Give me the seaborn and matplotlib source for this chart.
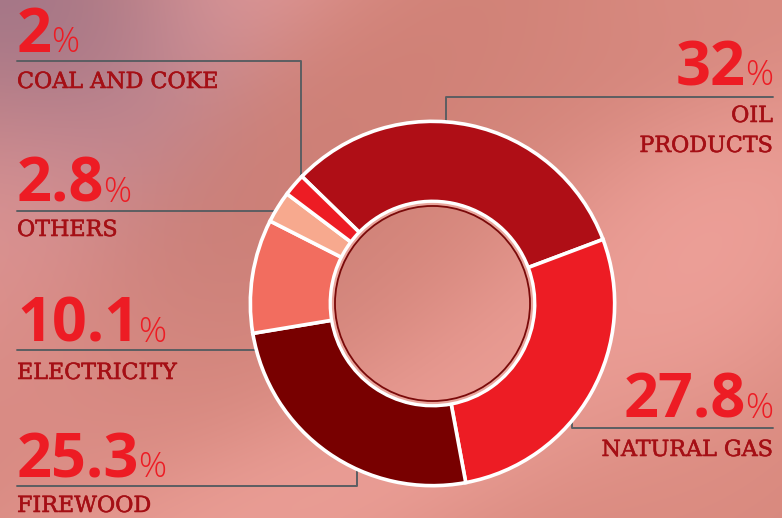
import numpy as np
import matplotlib
matplotlib.use("Agg")
import matplotlib.pyplot as plt
import matplotlib.patheffects as pe
import seaborn as sns

# ---- data ----
categories = ["OIL\nPRODUCTS", "NATURAL GAS", "FIREWOOD", "ELECTRICITY", "OTHERS", "COAL AND COKE"]
values = [32, 27.8, 25.3, 10.1, 2.8, 2]
value_labels = ["32", "27.8", "25.3", "10.1", "2.8", "2"]
colors = ["#AF0E16", "#ED1C24", "#780000", "#F26D5F", "#F7A98E", "#ED1C24"]

sns.set_theme(style="white")

W, H = 782, 518
fig = plt.figure(figsize=(W / 100, H / 100), dpi=100)

# ---- background ----
yy, xx = np.mgrid[0:H, 0:W].astype(float)
base = np.array([212, 133, 122], float)
img = np.ones((H, W, 3)) * base

def blob(cx, cy, sx, sy, col, strength, rot=0.0):
    c, s = np.cos(rot), np.sin(rot)
    dx, dy = xx - cx, yy - cy
    u = c * dx + s * dy
    v = -s * dx + c * dy
    g = np.exp(-(u ** 2 / (2 * sx ** 2) + v ** 2 / (2 * sy ** 2))) * strength
    return g[..., None], np.array(col, float)

layers = [
    (150, 60, 260, 70, (230, 158, 158), 0.9, -0.75),
    (10, 10, 170, 110, (152, 112, 132), 1.0, 0.8),
    (30, 300, 120, 220, (226, 150, 148), 0.5, 0.0),
    (500, 380, 330, 80, (238, 160, 152), 0.7, -0.6),
    (720, 230, 120, 200, (240, 163, 156), 0.7, 0.3),
    (250, 520, 260, 60, (236, 160, 152), 0.7, -0.3),
    (330, 140, 200, 60, (205, 126, 116), 0.6, -0.7),
    (650, 60, 200, 60, (208, 130, 120), 0.5, -0.2),
    (700, 470, 160, 60, (218, 138, 126), 0.4, -0.3),
]
for cx, cy, sx, sy, col, st, rot in layers:
    g, c = blob(cx, cy, sx, sy, col, st, rot)
    img = img * (1 - g) + c * g
img = np.clip(img / 255.0, 0, 1)

ax = fig.add_axes([0, 0, 1, 1])
ax.imshow(img, extent=[0, W, H, 0], aspect="auto", zorder=0)
ax.set_xlim(0, W)
ax.set_ylim(H, 0)
ax.axis("off")

# ---- donut ----
cx, cy, R = 432.5, 303.5, 184.0
pax = fig.add_axes([(cx - R) / W, (H - cy - R) / H, 2 * R / W, 2 * R / H])
pax.pie(values, colors=colors, startangle=135.8, counterclock=False, radius=0.99,
        wedgeprops=dict(width=0.435, edgecolor="white", linewidth=2.6))
pax.add_patch(plt.Circle((0, 0), 0.552, fill=False, edgecolor="white", linewidth=2.4, zorder=5))
pax.add_patch(plt.Circle((0, 0), 0.54, fill=False, edgecolor="#E9A59C", linewidth=1.8, zorder=5))
pax.add_patch(plt.Circle((0, 0), 0.53, fill=False, edgecolor="#7A0A0A", linewidth=1.3, zorder=6))
pax.set_xlim(-1, 1)
pax.set_ylim(-1, 1)
pax.set_aspect("equal")
pax.axis("off")
pax.patch.set_alpha(0)

# ---- annotations ----
num_font = dict(family="Open Sans", weight="bold", size=44, color="#ED1C24")
pct_font = dict(family="Open Sans", weight="light", size=25, color="#ED1C24")
lab_font = dict(family="DejaVu Serif", size=16, color="#A50F15",
                path_effects=[pe.withStroke(linewidth=0.4, foreground="#A50F15")])
line_col = "#5B5E62"

# layout: (side, text x, number baseline, line y, line x end, dot (x,y), label baseline)
layout = {
    "COAL AND COKE": ("L", 17, 52, 61, 301, (301, 185), 88),
    "OTHERS": ("L", 17, 202, 211, 287, (287, 211), 236),
    "ELECTRICITY": ("L", 17, 342, 350, 289, (289, 312), 379),
    "FIREWOOD": ("L", 17, 477, 486, 357, (357, 448), 512),
    "OIL\nPRODUCTS": ("R", 773, 85, 97, 446, (446, 136), 122),
    "NATURAL GAS": ("R", 773, 418, 428, 572, (572, 389), 456),
}

fig.canvas.draw()
renderer = fig.canvas.get_renderer()
inv = ax.transData.inverted()

def text_width(t):
    bb = t.get_window_extent(renderer)
    (x0, _), (x1, _) = inv.transform([(bb.x0, bb.y0), (bb.x1, bb.y1)])
    return x1 - x0

for cat, vl in zip(categories, value_labels):
    side, tx, nb, ly, lx, (dx, dy), lb = layout[cat]
    if side == "L":
        t = ax.text(tx, nb, vl, ha="left", va="baseline", **num_font)
        w = text_width(t)
        ax.text(tx + w - 1, nb, "%", ha="left", va="baseline", **pct_font)
        ax.plot([tx, lx, dx], [ly, ly, dy], color=line_col, lw=1.4, zorder=3)
        ax.text(tx, lb, cat, ha="left", va="baseline", **lab_font)
    else:
        p = ax.text(tx, nb, "%", ha="right", va="baseline", **pct_font)
        w = text_width(p)
        ax.text(tx - w + 1, nb, vl, ha="right", va="baseline", **num_font)
        ax.plot([tx, lx, dx], [ly, ly, dy], color=line_col, lw=1.4, zorder=3)
        lines = cat.split("\n")
        for i, ln in enumerate(lines):
            ax.text(tx, lb + i * 30, ln, ha="right", va="baseline", **lab_font)
    ax.scatter([dx], [dy], s=22, color=line_col, zorder=4, linewidths=0)

fig.savefig("out.png", dpi=100)
